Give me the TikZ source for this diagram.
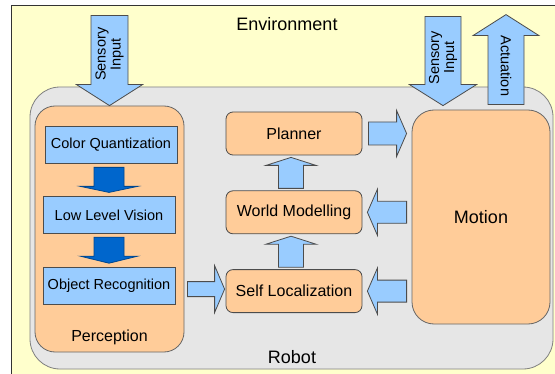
\documentclass[tikz,border=0pt]{standalone}
\usepackage{fontspec}
\setmainfont{Liberation Sans}
\usetikzlibrary{positioning,calc}

\definecolor{envyellow}{HTML}{FFFFCC}
\definecolor{robotgray}{HTML}{E6E6E6}
\definecolor{boxorange}{HTML}{FFCC99}
\definecolor{lightblue}{HTML}{99CCFF}
\definecolor{darkblue}{HTML}{0066CC}

% fat arrow: from, to, shaft half width, head half width, head length, style
\newcommand{\fatarrow}[6]{%
  \coordinate (fh) at ($(#2)!#5!(#1)$);
  \draw[#6] ($(#1)!#3!90:(#2)$) -- ($(fh)!#3!90:(#2)$) -- ($(fh)!#4!90:(#2)$) -- (#2)
    -- ($(fh)!#4!-90:(#2)$) -- ($(fh)!#3!-90:(#2)$) -- ($(#1)!#3!-90:(#2)$) -- cycle;
}

\begin{document}
\begin{tikzpicture}[x=1pt, y=1pt, node distance=35pt, line width=0.8pt]
				\tikzstyle{inner} = [draw=black!70, fill=lightblue, minimum width=132pt, minimum height=37pt, inner sep=0pt, font=\fontsize{14.5}{16}\selectfont]
				\tikzstyle{stage} = [draw=black!70, fill=boxorange, rounded corners=7pt, minimum width=136pt, minimum height=43pt, font=\fontsize{16}{18}\selectfont]
				\tikzstyle{blockarr} = [draw=black!70, fill=lightblue, line join=miter]
				\tikzstyle{darkarr} = [draw=darkblue!70!black, fill=darkblue, line join=miter]
				\tikzstyle{big} = [font=\fontsize{18}{20}\selectfont]
				\tikzstyle{side} = [font=\fontsize{14.5}{15}\selectfont, align=center, inner sep=0pt]
				\useasboundingbox (0,0) rectangle (555,373);
				% environment and robot
				\node[draw=black!80, fill=envyellow, minimum width=570pt, minimum height=390pt, anchor=north west] (E) at (11,368) {};
				\node[draw=black!50, fill=robotgray, rounded corners=30pt, minimum width=523pt, minimum height=282pt] (R) at (291.5,145) {};
				\node[big] (Elab) at (287,349) {Environment};
				\node[big] (Rlab) at (292,16) {Robot};
				% perception
				\node[draw=black!60, fill=boxorange, rounded corners=20pt, minimum width=149pt, minimum height=246pt] (Per) at (109.5,144) {};
				\node[font=\fontsize{16}{18}\selectfont] (Plab) at (109.5,36) {Perception};
				\node[inner] (CQ) at (111,228.5) {Color Quantization};
				\node[inner, below=33pt of CQ, xshift=-2pt] (LLV) {Low Level Vision};
				\node[inner, below=33pt of LLV] (OR) {Object Recognition};
				% stages and motion
				\node[stage] (P) at (294,239.5) {Planner};
				\node[stage, below=of P] (W) {World Modelling};
				\node[stage, below=of W] (S) {Self Localization};
				\node[draw=black!60, fill=boxorange, rounded corners=22pt, minimum width=138pt, minimum height=214pt, big] (M) at (481,156) {Motion};
				% sensing and acting
				\coordinate (s1) at ([yshift=90pt]Per.north);
				\fatarrow{s1}{Per.north}{18.5pt}{33pt}{21pt}{blockarr}
				\node[side, rotate=90] (t1) at ($(s1)!0.43!(Per.north)$) {Sensory\\Input};
				\coordinate (s2) at ([xshift=-38pt, yshift=93pt]M.north);
				\coordinate (s3) at ([xshift=-38pt, yshift=4pt]M.north);
				\fatarrow{s2}{s3}{18pt}{33.5pt}{21pt}{blockarr}
				\node[side, rotate=90] (t2) at ($(s2)!0.46!(s3)$) {Sensory\\Input};
				\coordinate (a1) at ([xshift=25pt, yshift=5pt]M.north);
				\coordinate (a2) at ([xshift=25pt, yshift=95pt]M.north);
				\fatarrow{a1}{a2}{18pt}{33pt}{21pt}{blockarr}
				\node[side, rotate=-90] (t3) at ($(a1)!0.43!(a2)$) {Actuation};
				% perception chain
				\coordinate (d1) at ($(LLV.north |- CQ.south)+(0,-4)$);
				\coordinate (d2) at ($(LLV.north)+(0,4)$);
				\fatarrow{d1}{d2}{15pt}{28.5pt}{6pt}{darkarr}
				\coordinate (d3) at ($(LLV.south)+(0,-3)$);
				\coordinate (d4) at ($(OR.north)+(0,4)$);
				\fatarrow{d3}{d4}{15pt}{28.5pt}{7pt}{darkarr}
				\coordinate (o1) at ($(OR.east |- S.west)+(12,2)$);
				\coordinate (o2) at ($(S.west)+(-1,2)$);
				\fatarrow{o1}{o2}{7.5pt}{23.5pt}{10pt}{blockarr}
				% between stages
				\coordinate (u1) at ($(S.north)+(-3,2)$);
				\coordinate (u2) at ($(W.south)+(-3,-2)$);
				\fatarrow{u1}{u2}{12.5pt}{25pt}{8pt}{blockarr}
				\coordinate (u3) at ($(W.north)+(-3,2)$);
				\coordinate (u4) at ($(P.south)+(-3,-2)$);
				\fatarrow{u3}{u4}{12.5pt}{25pt}{8pt}{blockarr}
				\coordinate (p1) at ($(P.east)+(6,0)$);
				\coordinate (p2) at ($(M.west |- P.east)+(-5,0)$);
				\fatarrow{p1}{p2}{11.5pt}{23pt}{10pt}{blockarr}
				\coordinate (m1) at ($(M.west |- W.east)+(-5,0)$);
				\coordinate (m2) at ($(W.east)+(5,0)$);
				\fatarrow{m1}{m2}{11pt}{23pt}{10pt}{blockarr}
				\coordinate (m3) at ($(M.west |- S.east)+(-5,0)$);
				\coordinate (m4) at ($(S.east)+(5,0)$);
				\fatarrow{m3}{m4}{11pt}{23pt}{10pt}{blockarr}
			\end{tikzpicture}
\end{document}
